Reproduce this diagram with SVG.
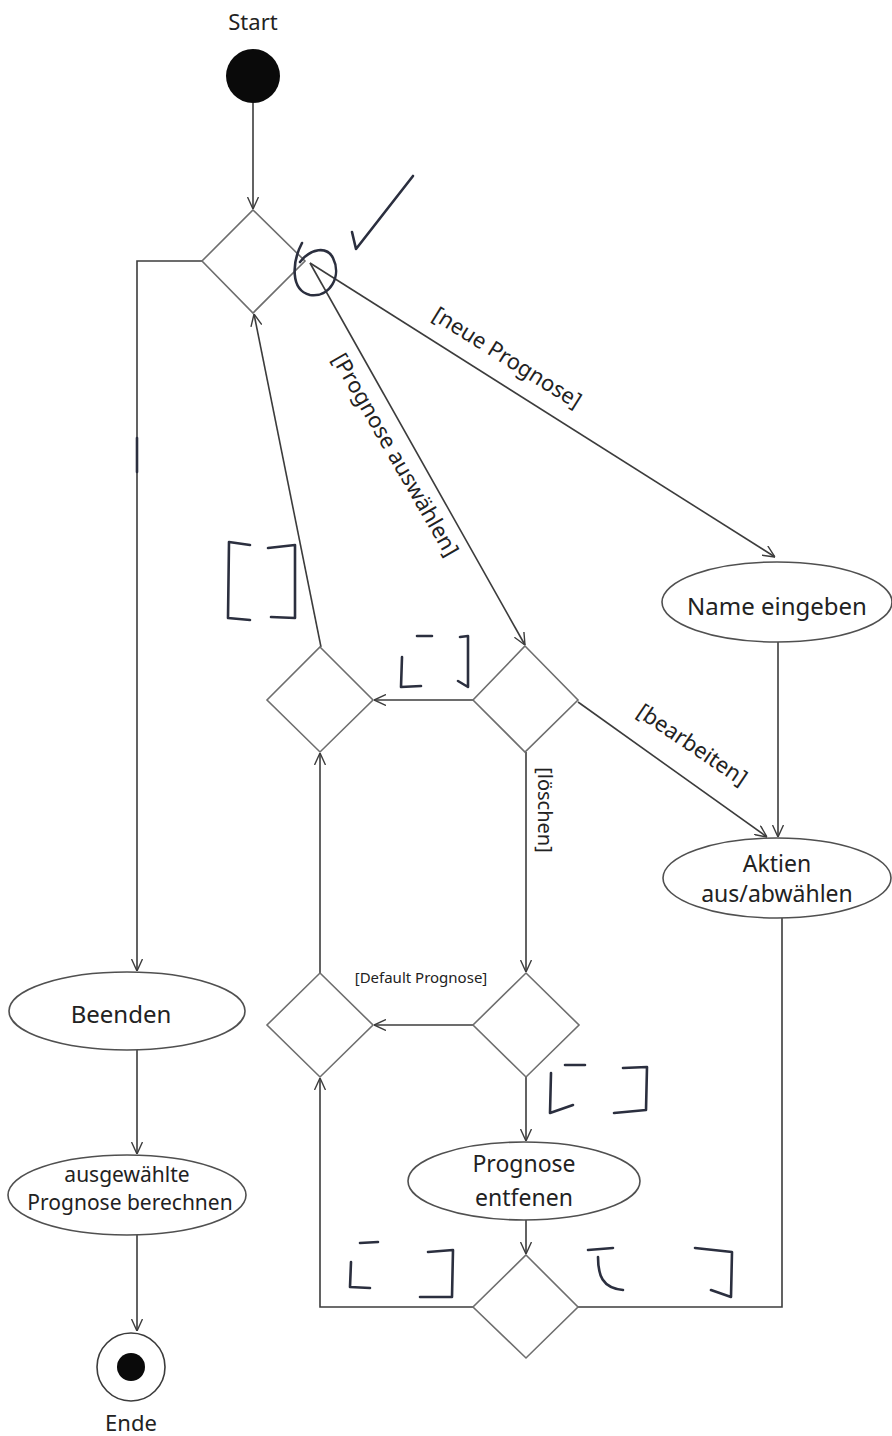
<svg xmlns="http://www.w3.org/2000/svg" width="892" height="1436" viewBox="0 0 892 1436">
<defs>
<style>
.bg{fill:#ffffff}
.ln{fill:none;stroke:#3c3c3c;stroke-width:1.6}
.dm{fill:#ffffff;stroke:#6e6e6e;stroke-width:1.6}
.el{fill:#ffffff;stroke:#505050;stroke-width:1.6}
.t{font-family:"Noto Sans","Open Sans",sans-serif;fill:#222222;text-anchor:middle}
.hw{fill:none;stroke:#2b2f3f;stroke-width:2.6;stroke-linecap:round;stroke-linejoin:round}
</style>
<marker id="arr" viewBox="0 0 12 12" refX="12" refY="6" markerWidth="12" markerHeight="12" markerUnits="userSpaceOnUse" orient="auto">
<path d="M0,0.5 L12,6 L0,11.5" fill="none" stroke="#3c3c3c" stroke-width="1.4"/>
</marker>
</defs>
<rect class="bg" x="0" y="0" width="892" height="1436"/>

<g id="connectors">
<line class="ln" x1="253" y1="103" x2="253" y2="209" marker-end="url(#arr)"/>
<polyline class="ln" points="202,261 137,261 137,971" marker-end="url(#arr)"/>
<line class="ln" x1="310" y1="263" x2="775" y2="557" marker-end="url(#arr)"/>
<line class="ln" x1="310" y1="263" x2="525" y2="645" marker-end="url(#arr)"/>
<line class="ln" x1="321" y1="647" x2="254" y2="314" marker-end="url(#arr)"/>
<line class="ln" x1="473" y1="700" x2="374" y2="700" marker-end="url(#arr)"/>
<line class="ln" x1="578" y1="702" x2="767" y2="837" marker-end="url(#arr)"/>
<line class="ln" x1="778" y1="642" x2="778" y2="837" marker-end="url(#arr)"/>
<line class="ln" x1="526" y1="752" x2="526" y2="972" marker-end="url(#arr)"/>
<line class="ln" x1="473" y1="1025" x2="374" y2="1025" marker-end="url(#arr)"/>
<line class="ln" x1="320" y1="973" x2="320" y2="753" marker-end="url(#arr)"/>
<line class="ln" x1="526" y1="1077" x2="526" y2="1141" marker-end="url(#arr)"/>
<line class="ln" x1="526" y1="1220" x2="526" y2="1254" marker-end="url(#arr)"/>
<polyline class="ln" points="473,1307 320,1307 320,1078" marker-end="url(#arr)"/>
<polyline class="ln" points="782,918 782,1307 578,1307"/>
<line class="ln" x1="137" y1="1050" x2="137" y2="1154" marker-end="url(#arr)"/>
<line class="ln" x1="137" y1="1235" x2="137" y2="1331" marker-end="url(#arr)"/>
</g>

<g id="start">
<text class="t" x="253" y="30" font-size="22">Start</text>
<circle cx="253" cy="76" r="27" fill="#0a0a0a"/>
</g>

<g id="decision1"><polygon class="dm" points="253,210 305,261 253,313 202,261"/></g>
<g id="decision2"><polygon class="dm" points="320,647 373,700 320,752 267,700"/></g>
<g id="decision3"><polygon class="dm" points="525,646 578,700 525,752 473,700"/></g>
<g id="decision4"><polygon class="dm" points="526,973 579,1025 526,1077 473,1025"/></g>
<g id="decision5"><polygon class="dm" points="320,973 373,1025 320,1077 267,1025"/></g>
<g id="decision6"><polygon class="dm" points="526,1255 578,1307 526,1358 473,1307"/></g>

<g id="name-eingeben">
<ellipse class="el" cx="777" cy="602" rx="115" ry="40"/>
<text class="t" x="777" y="615" font-size="24">Name eingeben</text>
</g>
<g id="aktien">
<ellipse class="el" cx="777" cy="878" rx="114" ry="40"/>
<text class="t" x="777" y="872" font-size="23">Aktien</text>
<text class="t" x="777" y="902" font-size="23">aus/abwählen</text>
</g>
<g id="beenden">
<ellipse class="el" cx="127" cy="1011" rx="118" ry="39"/>
<text class="t" x="121" y="1023" font-size="24">Beenden</text>
</g>
<g id="berechnen">
<ellipse class="el" cx="127" cy="1195" rx="119" ry="40"/>
<text class="t" x="127" y="1182" font-size="21">ausgewählte</text>
<text class="t" x="130" y="1210" font-size="21">Prognose berechnen</text>
</g>
<g id="entfernen">
<ellipse class="el" cx="524" cy="1181" rx="116" ry="39"/>
<text class="t" x="524" y="1172" font-size="23">Prognose</text>
<text class="t" x="524" y="1206" font-size="23">entfenen</text>
</g>
<g id="ende">
<circle cx="131" cy="1367" r="34" fill="#ffffff" stroke="#3c3c3c" stroke-width="1.6"/>
<circle cx="131" cy="1367" r="14" fill="#0a0a0a"/>
<text class="t" x="131" y="1431" font-size="22">Ende</text>
</g>

<g id="labels">
<text class="t" font-size="22" transform="translate(507,358) rotate(32)" x="0" y="7">[neue Prognose]</text>
<text class="t" font-size="22" transform="translate(395,455) rotate(60)" x="0" y="7">[Prognose auswählen]</text>
<text class="t" font-size="22" transform="translate(692,745) rotate(34)" x="0" y="7">[bearbeiten]</text>
<text class="t" font-size="20" transform="translate(545,810) rotate(90)" x="0" y="7">[löschen]</text>
<text class="t" font-size="15" x="421" y="983">[Default Prognose]</text>
</g>

<g id="handwriting">
<path class="hw" d="M352,232 L356,249 L413,176"/>
<path class="hw" d="M302,243 C292,262 290,290 310,295 C330,298 342,276 333,258 C327,246 311,248 300,262"/>
<line class="hw" x1="137" y1="438" x2="137" y2="472" stroke-width="3.4"/>
<path class="hw" d="M250,545 L229,542 L228,618 L250,620"/>
<path class="hw" d="M268,548 L295,545 L295,618 L271,617"/>
<path class="hw" d="M417,636 L432,636 M402,657 L401,687 L421,686"/>
<path class="hw" d="M460,637 L468,636 L468,687 L458,681"/>
<path class="hw" d="M565,1065 L585,1065 M551,1073 L550,1113 L573,1105"/>
<path class="hw" d="M623,1068 L647,1067 L646,1110 L614,1113"/>
<path class="hw" d="M360,1243 L378,1242 M351,1262 L350,1287 L370,1288"/>
<path class="hw" d="M428,1252 L453,1250 L452,1297 L420,1297"/>
<path class="hw" d="M588,1250 L613,1248 M598,1257 C598,1275 602,1288 623,1290"/>
<path class="hw" d="M695,1248 L732,1252 L731,1297 L711,1290"/>
</g>
</svg>
